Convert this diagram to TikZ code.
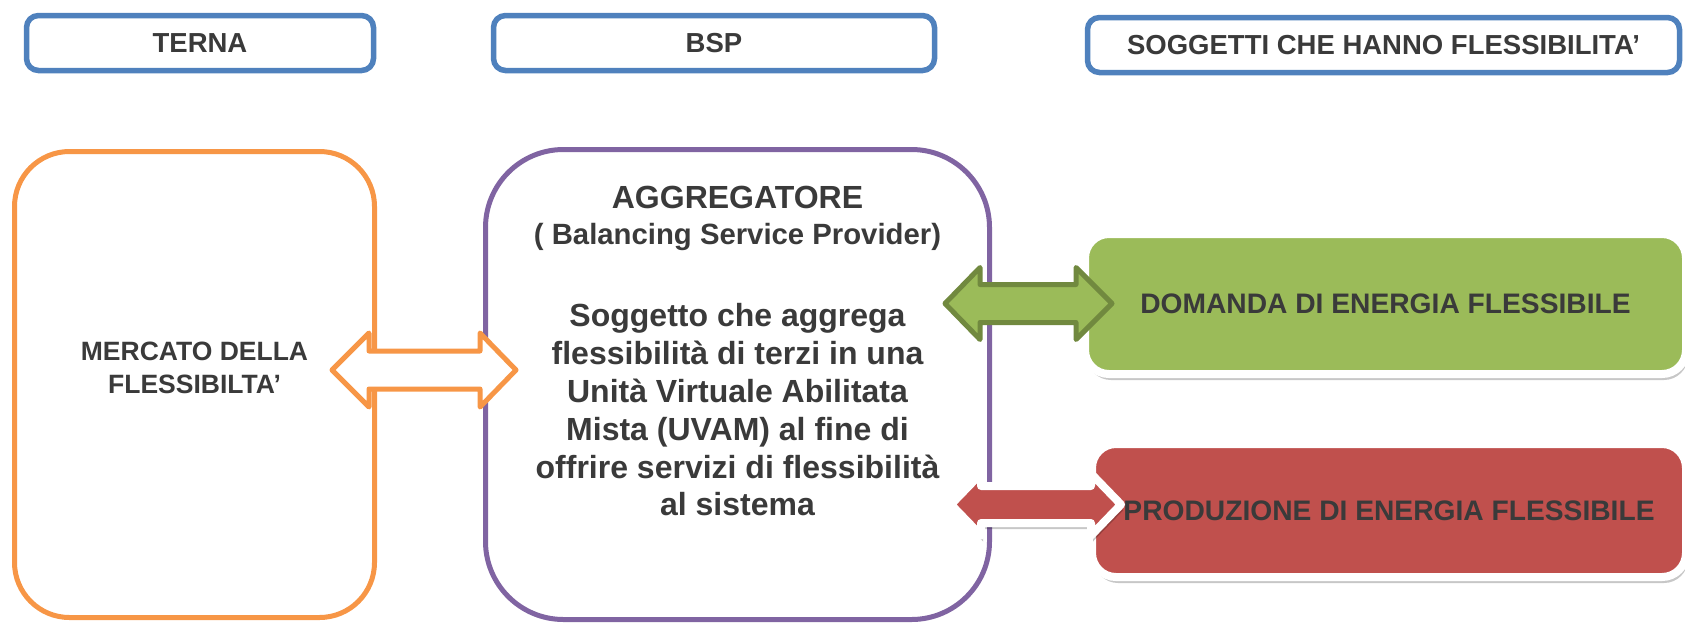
\documentclass[tikz,border=0pt]{standalone}
\usepackage{fontspec}
\setmainfont{Liberation Sans}
\usetikzlibrary{shadows}
\definecolor{tblue}{HTML}{4F81BD}
\definecolor{torange}{HTML}{F79646}
\definecolor{tpurple}{HTML}{8064A2}
\definecolor{tgreen}{HTML}{9BBB59}
\definecolor{tgreendark}{HTML}{71893F}
\definecolor{tred}{HTML}{C0504D}
\definecolor{ttext}{HTML}{3A3A3A}
\begin{document}
\begin{tikzpicture}[x=1pt,y=-1pt,
  headbox/.style={draw=tblue, line width=5.5pt, rounded corners=12pt, fill=white, inner sep=0pt,
    text=ttext, font=\fontsize{27.5}{30}\selectfont\bfseries, minimum height=55pt},
  bigbox/.style={line width=5pt, fill=white, inner sep=0pt},
  flexbox/.style={draw=white, line width=8pt, rounded corners=24pt, inner sep=0pt,
    text=ttext, font=\fontsize{28.2}{32}\selectfont\bfseries,
    drop shadow={shadow xshift=2pt, shadow yshift=-6pt, opacity=0.22, fill=black}},
  lbl/.style={text=ttext, align=center, inner sep=0pt},
  blockarrow/.style={line width=5pt, line join=round}
]
\useasboundingbox (0,0) rectangle (1685,622);

% header boxes
\node[headbox, minimum width=347pt] (terna) at (200,43) {TERNA};
\node[headbox, minimum width=441pt] (bsp) at (714,43) {BSP};
\node[headbox, minimum width=592pt] (sogg) at (1383.5,45) {SOGGETTI CHE HANNO FLESSIBILITA'};

% main boxes
\node[bigbox, draw=torange, rounded corners=55pt, minimum width=360pt, minimum height=466pt] (mercato) at (194.5,384.5) {};
\node[lbl, font=\fontsize{26.5}{33}\selectfont\bfseries] (mercatotxt) at (194.5,368) {MERCATO DELLA\\FLESSIBILTA'};

\node[bigbox, draw=tpurple, rounded corners=78pt, minimum width=504pt, minimum height=470pt] (aggr) at (737.5,384.5) {};
\node[lbl, font=\fontsize{32}{38}\selectfont\bfseries] (aggrtitle) at (737.5,197) {AGGREGATORE};
\node[lbl, font=\fontsize{29.3}{32}\selectfont\bfseries] (aggrsub) at (737.5,237) {( Balancing Service Provider)};
\node[lbl, font=\fontsize{32}{37.8}\selectfont\bfseries] (aggrbody) at (737.5,410) {Soggetto che aggrega\\flessibilità di terzi in una\\Unità Virtuale Abilitata\\Mista (UVAM) al fine di\\offrire servizi di flessibilità\\al sistema};

% flexibility boxes
\node[flexbox, fill=tgreen, minimum width=601pt, minimum height=140pt] (domanda) at (1385.5,304) {DOMANDA DI ENERGIA FLESSIBILE};
\node[flexbox, fill=tred, minimum width=594pt, minimum height=133pt] (produzione) at (1389,510.5) {PRODUZIONE DI ENERGIA FLESSIBILE};

% block arrows
\draw[blockarrow, draw=torange, fill=white]
  (332,370) -- (369,333) -- (369,351) -- (480,351) -- (480,333) -- (516,370)
  -- (480,407) -- (480,389) -- (369,389) -- (369,407) -- cycle;
\draw[blockarrow, draw=tgreendark, fill=tgreen]
  (945,303.5) -- (980,267.5) -- (980,284.5) -- (1076,284.5) -- (1076,267.5) -- (1112,303.5)
  -- (1076,339.5) -- (1076,322.5) -- (980,322.5) -- (980,339.5) -- cycle;
\draw[blockarrow, line width=8pt, draw=white, fill=tred,
  drop shadow={shadow xshift=2pt, shadow yshift=-6pt, opacity=0.22, fill=black}]
  (951,504.5) -- (981,473.5) -- (981,486) -- (1091,486) -- (1091,473.5) -- (1121,504.5)
  -- (1091,535.5) -- (1091,523) -- (981,523) -- (981,535.5) -- cycle;
\end{tikzpicture}
\end{document}
